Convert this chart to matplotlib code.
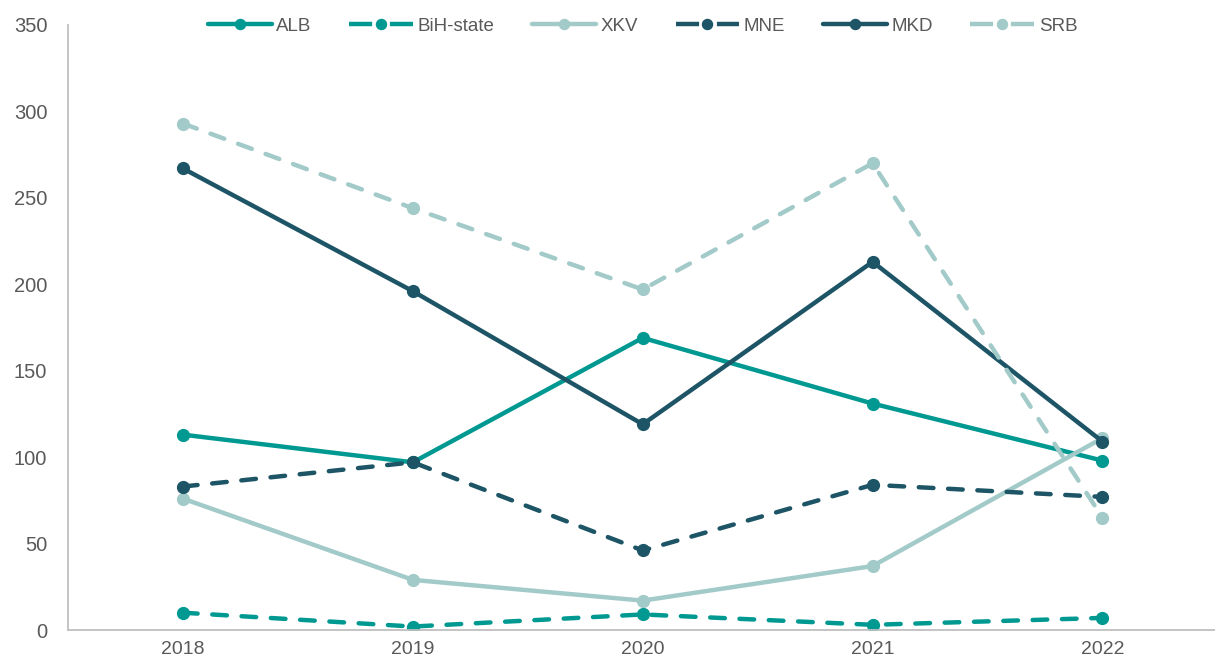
import matplotlib.pyplot as plt
from matplotlib import font_manager

years = ["2018", "2019", "2020", "2021", "2022"]
alb = [113, 97, 169, 131, 98]
bih = [10, 2, 9, 3, 7]
xkv = [76, 29, 17, 37, 111]
mne = [83, 97, 46, 84, 77]
mkd = [267, 196, 119, 213, 109]
srb = [293, 244, 197, 270, 65]

TEAL = "#009991"
LIGHT = "#A2CAC8"
DARK = "#1D5566"

names = {f.name for f in font_manager.fontManager.ttflist}
narrow = "Liberation Sans Narrow" if "Liberation Sans Narrow" in names else "Liberation Sans"

series = [
    ("ALB", alb, TEAL, "-"),
    ("BiH-state", bih, TEAL, "--"),
    ("XKV", xkv, LIGHT, "-"),
    ("MNE", mne, DARK, "--"),
    ("MKD", mkd, DARK, "-"),
    ("SRB", srb, LIGHT, "--"),
]

fig = plt.figure(figsize=(12.15, 6.7), dpi=100)
ax = fig.add_axes([0.056, 0.0597, 0.946, 0.903])

x = range(len(years))
for label, vals, color, ls in series:
    line, = ax.plot(x, vals, color=color, lw=3.2, marker="o", ms=8.5,
                    label=label, solid_capstyle="round")
    if ls == "--":
        line.set_dashes((3.3, 3.3))
        line.set_dash_capstyle("round")

ax.set_xlim(-0.5, 4.5)
ax.set_ylim(0, 350)
ax.set_yticks(range(0, 351, 50))
ax.set_xticks(list(x))
ax.set_xticklabels(years, fontfamily=narrow, fontsize=14)
for t in ax.get_yticklabels():
    t.set_fontfamily("Liberation Sans")
    t.set_fontsize(14.5)
ax.tick_params(axis="both", colors="#595959", length=0)
ax.tick_params(axis="x", pad=8)
ax.tick_params(axis="y", pad=15)

for side in ("top", "right"):
    ax.spines[side].set_visible(False)
for side in ("left", "bottom"):
    ax.spines[side].set_color("#BFBFBF")
    ax.spines[side].set_linewidth(1.3)

leg = ax.legend(loc="center", bbox_to_anchor=(0.5, 0.998), ncol=6, frameon=False,
                handlelength=3.4, handletextpad=0.25, columnspacing=2.0,
                markerscale=0.85, prop={"family": narrow, "size": 13.5})
for t in leg.get_texts():
    t.set_color("#595959")
# dashed handles: dash - marker - dash, so no trailing gap next to the label
for h, (_, _, _, ls) in zip(leg.get_lines(), series):
    if ls == "--":
        h.set_dash_capstyle("butt")
        h.set_dashes((5.2, 1.2, 1.6, 1.2))

fig.savefig("out.png", dpi=100)
